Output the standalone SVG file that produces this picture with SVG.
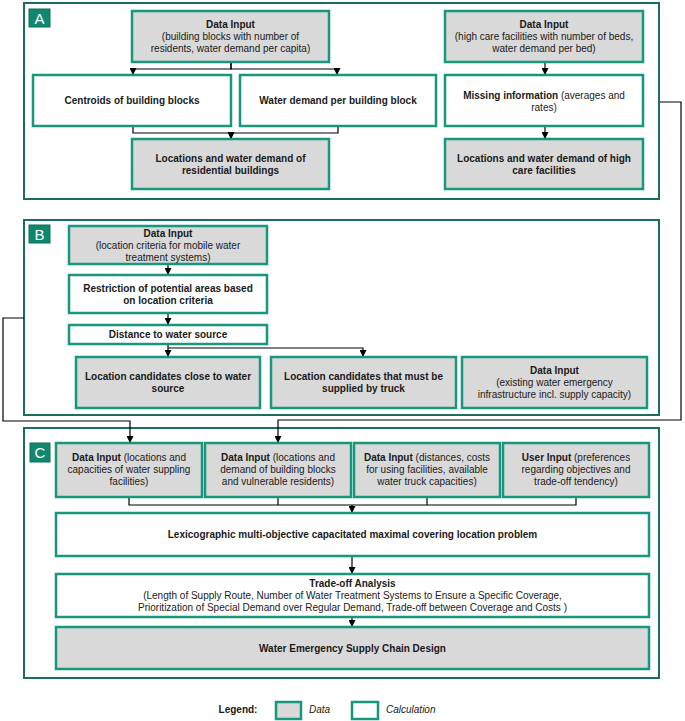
<svg xmlns="http://www.w3.org/2000/svg" width="685" height="721" viewBox="0 0 685 721">
<style>
text{font-family:"Liberation Sans",Arial,sans-serif;font-size:10px;fill:#1a1a1a;text-anchor:middle}
.b{font-weight:bold}
.panel{fill:#fff;stroke:#1b6e5f;stroke-width:2}
.lab{fill:#12876f;stroke:#0d6f5b;stroke-width:1}
.labt{fill:#fff;font-size:15px;text-anchor:middle}
.data{fill:#d9d9d9;stroke:#16977e;stroke-width:2.5}
.calc{fill:#fff;stroke:#16977e;stroke-width:2.5}
.c{fill:none;stroke:#000;stroke-width:1.2}
.ca{fill:none;stroke:#000;stroke-width:1.2;marker-end:url(#ah)}
.it{font-style:italic;text-anchor:start}
</style>
<defs>
<marker id="ah" markerUnits="userSpaceOnUse" markerWidth="7" markerHeight="7" refX="7" refY="3.5" orient="auto">
<path d="M0,0 L7,3.5 L0,7 z" fill="#000"/>
</marker>
</defs>

<g id="panelA">
<rect class="panel" x="24" y="3" width="635" height="196"/>
<rect class="lab" x="29" y="9" width="21" height="18"/>
<text class="labt" x="39.5" y="23.5">A</text>
</g>
<g id="panelB">
<rect class="panel" x="24" y="220" width="635" height="195"/>
<rect class="lab" x="29" y="225" width="21" height="18"/>
<text class="labt" x="39.5" y="239.5">B</text>
</g>
<g id="panelC">
<rect class="panel" x="24" y="428" width="635" height="250"/>
<rect class="lab" x="30" y="443" width="20" height="19"/>
<text class="labt" x="40" y="458">C</text>
</g>

<g id="connectors">
<path class="ca" d="M231,62 V69 H133 V75"/>
<path class="ca" d="M231,62 V69 H337 V75"/>
<path class="ca" d="M133,126 V133 H231 V139"/>
<path class="ca" d="M338,126 V133 H231 V139"/>
<path class="ca" d="M545,62 V75"/>
<path class="ca" d="M545,126 V139"/>
<path class="ca" d="M660,102 H681 V420 H278 V443"/>
<path class="ca" d="M168,264 V275"/>
<path class="ca" d="M168,313 V325"/>
<path class="ca" d="M168,344 V357"/>
<path class="ca" d="M168,348 H363 V357"/>
<path class="ca" d="M24,318 H3 V421 H130 V443"/>
<path class="c" d="M129,497 V505 H576 V497"/>
<path class="c" d="M278,497 V505"/>
<path class="c" d="M427,497 V505"/>
<path class="ca" d="M352,505 V513"/>
<path class="ca" d="M352,556 V574"/>
<path class="ca" d="M352,617 V627"/>
</g>

<g id="a_input1">
<rect class="data" x="132" y="11" width="197" height="51"/>
<text class="b" x="230.5" y="28">Data Input</text>
<text x="230.5" y="40">(building blocks with number of</text>
<text x="230.5" y="52">residents, water demand per capita)</text>
</g>
<g id="a_centroids">
<rect class="calc" x="33" y="75" width="198" height="51"/>
<text class="b" x="132" y="104">Centroids of building blocks</text>
</g>
<g id="a_demand">
<rect class="calc" x="240" y="75" width="196" height="51"/>
<text class="b" x="338" y="104">Water demand per building block</text>
</g>
<g id="a_res">
<rect class="data" x="132" y="139" width="197" height="50"/>
<text class="b" x="230.5" y="162">Locations and water demand of</text>
<text class="b" x="230.5" y="174">residential buildings</text>
</g>
<g id="a_input2">
<rect class="data" x="445" y="11" width="198" height="51"/>
<text class="b" x="544" y="28">Data Input</text>
<text x="544" y="40">(high care facilities with number of beds,</text>
<text x="544" y="52">water demand per bed)</text>
</g>
<g id="a_missing">
<rect class="calc" x="445" y="75" width="198" height="51"/>
<text x="544" y="99"><tspan class="b">Missing information</tspan> (averages and</text>
<text x="544" y="111">rates)</text>
</g>
<g id="a_high">
<rect class="data" x="445" y="139" width="198" height="50"/>
<text class="b" x="544" y="162">Locations and water demand of high</text>
<text class="b" x="544" y="174">care facilities</text>
</g>

<g id="b_input">
<rect class="data" x="69" y="226" width="198" height="38"/>
<text class="b" x="168" y="237">Data Input</text>
<text x="168" y="249">(location criteria for mobile water</text>
<text x="168" y="261">treatment systems)</text>
</g>
<g id="b_restrict">
<rect class="calc" x="69" y="275" width="198" height="38"/>
<text class="b" x="168" y="292">Restriction of potential areas based</text>
<text class="b" x="168" y="304">on location criteria</text>
</g>
<g id="b_distance">
<rect class="calc" x="69" y="325" width="198" height="19"/>
<text class="b" x="168" y="338">Distance to water source</text>
</g>
<g id="b_close">
<rect class="data" x="76" y="357" width="184" height="51"/>
<text class="b" x="168" y="380">Location candidates close to water</text>
<text class="b" x="168" y="392">source</text>
</g>
<g id="b_truck">
<rect class="data" x="271" y="357" width="185" height="51"/>
<text class="b" x="363.5" y="380">Location candidates that must be</text>
<text class="b" x="363.5" y="392">supplied by truck</text>
</g>
<g id="b_existing">
<rect class="data" x="462" y="357" width="185" height="51"/>
<text class="b" x="554.5" y="374">Data Input</text>
<text x="554.5" y="386">(existing water emergency</text>
<text x="554.5" y="398">infrastructure incl. supply capacity)</text>
</g>

<g id="c_in1">
<rect class="data" x="56" y="443" width="146" height="54"/>
<text x="129" y="461"><tspan class="b">Data Input</tspan> (locations and</text>
<text x="129" y="473">capacities of water suppling</text>
<text x="129" y="485">facilities)</text>
</g>
<g id="c_in2">
<rect class="data" x="205" y="443" width="146" height="54"/>
<text x="278" y="461"><tspan class="b">Data Input</tspan> (locations and</text>
<text x="278" y="473">demand of building blocks</text>
<text x="278" y="485">and vulnerable residents)</text>
</g>
<g id="c_in3">
<rect class="data" x="354" y="443" width="146" height="54"/>
<text x="427" y="461"><tspan class="b">Data Input</tspan> (distances, costs</text>
<text x="427" y="473">for using facilities, available</text>
<text x="427" y="485">water truck capacities)</text>
</g>
<g id="c_in4">
<rect class="data" x="503" y="443" width="146" height="54"/>
<text x="576" y="461"><tspan class="b">User Input</tspan> (preferences</text>
<text x="576" y="473">regarding objectives and</text>
<text x="576" y="485">trade-off tendency)</text>
</g>
<g id="c_lp">
<rect class="calc" x="56" y="513" width="593" height="43"/>
<text class="b" x="352.5" y="538">Lexicographic multi-objective capacitated maximal covering location problem</text>
</g>
<g id="c_tradeoff">
<rect class="calc" x="56" y="574" width="593" height="43"/>
<text class="b" x="352.5" y="587">Trade-off Analysis</text>
<text x="352.5" y="599">(Length of Supply Route, Number of Water Treatment Systems to Ensure a Specific Coverage,</text>
<text x="352.5" y="611">Prioritization of Special Demand over Regular Demand, Trade-off between Coverage and Costs )</text>
</g>
<g id="c_design">
<rect class="data" x="56" y="627" width="593" height="42"/>
<text class="b" x="352.5" y="652">Water Emergency Supply Chain Design</text>
</g>

<g id="legend">
<text class="b" x="238" y="713">Legend:</text>
<rect class="data" x="276" y="702" width="25" height="17"/>
<text class="it" x="309" y="713">Data</text>
<rect class="calc" x="352" y="702" width="26" height="17"/>
<text class="it" x="386" y="713">Calculation</text>
</g>
</svg>
